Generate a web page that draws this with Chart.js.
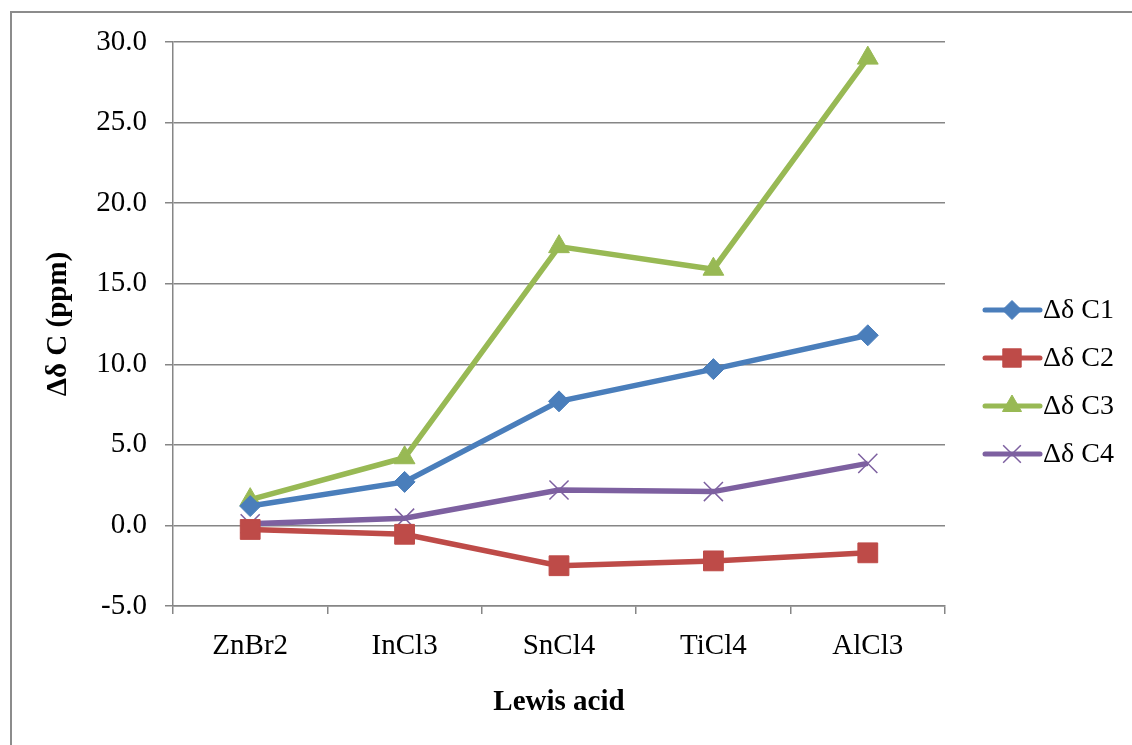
<!DOCTYPE html>
<html>
<head>
<meta charset="utf-8">
<title>Δδ C vs Lewis acid</title>
<script src="https://cdn.jsdelivr.net/npm/chart.js@4/dist/chart.umd.min.js"></script>
<style>
  html, body { margin: 0; padding: 0; background: #fff; overflow: hidden; }
  #wrap { position: relative; width: 1132px; height: 745px; }
  #frame {
    position: absolute; left: 10px; top: 11px; width: 1200px; height: 800px;
    border-left: 2px solid #8c8c8c; border-top: 2px solid #8c8c8c;
  }
  canvas { position: absolute; left: 0; top: 0; }
</style>
</head>
<body>
<div id="wrap">
  <div id="frame"></div>
  <canvas id="shifts" width="1132" height="745"></canvas>
</div>
<script>
var categories = ['ZnBr2', 'InCl3', 'SnCl4', 'TiCl4', 'AlCl3'];
var seriesNames = ['Δδ C1', 'Δδ C2', 'Δδ C3', 'Δδ C4'];
var c1 = [1.2, 2.7, 7.7, 9.7, 11.8];
var c2 = [-0.25, -0.55, -2.5, -2.2, -1.7];
var c3 = [1.6, 4.2, 17.3, 15.9, 29.0];
var c4 = [0.1, 0.45, 2.2, 2.1, 3.85];
var yTicks = [-5, 0, 5, 10, 15, 20, 25, 30];

var serif = "'Liberation Serif', 'Times New Roman', serif";
var gridGray = '#868686';

function series(label, data, color, style, radius, bw) {
    return {
        label: label,
        data: data,
        borderColor: color,
        backgroundColor: color,
        borderWidth: 5.5,
        pointStyle: style,
        pointRadius: radius,
        pointHoverRadius: radius,
        pointBorderWidth: bw,
        pointBorderColor: color,
        pointBackgroundColor: color,
        tension: 0
    };
}

// Excel style legend: short line with the marker sitting on it
var sideLegend = {
    id: 'sideLegend',
    afterDraw: function (chart) {
        var ctx = chart.ctx;
        var area = chart.chartArea;
        var x0 = area.right + 40;
        var y0 = area.top + 268;
        ctx.save();
        chart.data.datasets.forEach(function (ds, i) {
            var y = y0 + i * 48;
            ctx.strokeStyle = ds.borderColor;
            ctx.lineWidth = 5;
            ctx.lineCap = 'round';
            ctx.beginPath();
            ctx.moveTo(x0, y);
            ctx.lineTo(x0 + 55, y);
            ctx.stroke();
            ctx.lineCap = 'butt';
            ctx.fillStyle = ds.pointBackgroundColor;
            ctx.strokeStyle = ds.pointBorderColor;
            ctx.lineWidth = ds.pointBorderWidth;
            Chart.helpers.drawPoint(ctx, {
                pointStyle: ds.pointStyle,
                radius: ds.pointRadius - 1,
                rotation: 0,
                borderWidth: ds.pointBorderWidth
            }, x0 + 27, y);
            ctx.fillStyle = '#000';
            ctx.font = '28px ' + serif;
            ctx.textAlign = 'left';
            ctx.textBaseline = 'middle';
            ctx.fillText(ds.label, x0 + 58, y + 1);
        });
        ctx.restore();
    }
};

var ctx = document.getElementById('shifts').getContext('2d');
var chart = new Chart(ctx, {
    type: 'line',
    data: {
        labels: categories,
        datasets: [
            series(seriesNames[0], c1, '#4a7ebb', 'rectRot', 10.5, 1),
            series(seriesNames[1], c2, '#be4b48', 'rect', 14, 1),
            series(seriesNames[2], c3, '#98b954', 'triangle', 12, 1),
            series(seriesNames[3], c4, '#7d60a0', 'crossRot', 13.5, 1.5)
        ]
    },
    options: {
        responsive: false,
        animation: false,
        layout: { padding: { left: 0, top: 42, right: 187, bottom: 25 } },
        plugins: {
            legend: { display: false },
            tooltip: { enabled: false }
        },
        scales: {
            x: {
                type: 'category',
                offset: true,
                grid: {
                    offset: true,
                    drawOnChartArea: false,
                    drawTicks: true,
                    tickLength: 8,
                    color: gridGray,
                    lineWidth: 1.5
                },
                border: { display: true, color: gridGray, width: 1.5 },
                ticks: {
                    color: '#000',
                    padding: 15,
                    maxRotation: 0,
                    font: { family: serif, size: 29 }
                },
                title: {
                    display: true,
                    text: 'Lewis acid',
                    color: '#000',
                    padding: { top: 0, bottom: 0 },
                    font: { family: serif, size: 29, weight: 'bold' }
                },
                afterFit: function (scale) { scale.height = 114; }
            },
            y: {
                min: yTicks[0],
                max: yTicks[yTicks.length - 1],
                afterBuildTicks: function (scale) {
                    scale.ticks = yTicks.map(function (v) { return { value: v }; });
                },
                grid: {
                    color: gridGray,
                    lineWidth: 1.5,
                    drawTicks: true,
                    tickLength: 8
                },
                border: { display: true, color: gridGray, width: 1.5 },
                ticks: {
                    color: '#000',
                    padding: 18,
                    font: { family: serif, size: 29 },
                    callback: function (v) { return Number(v).toFixed(1); }
                },
                title: {
                    display: true,
                    text: 'Δδ C (ppm)',
                    color: '#000',
                    padding: { top: 41, bottom: 0 },
                    font: { family: serif, size: 29, weight: 'bold' }
                },
                afterFit: function (scale) { scale.width = 173; }
            }
        }
    },
    plugins: [sideLegend]
});
</script>
</body>
</html>
